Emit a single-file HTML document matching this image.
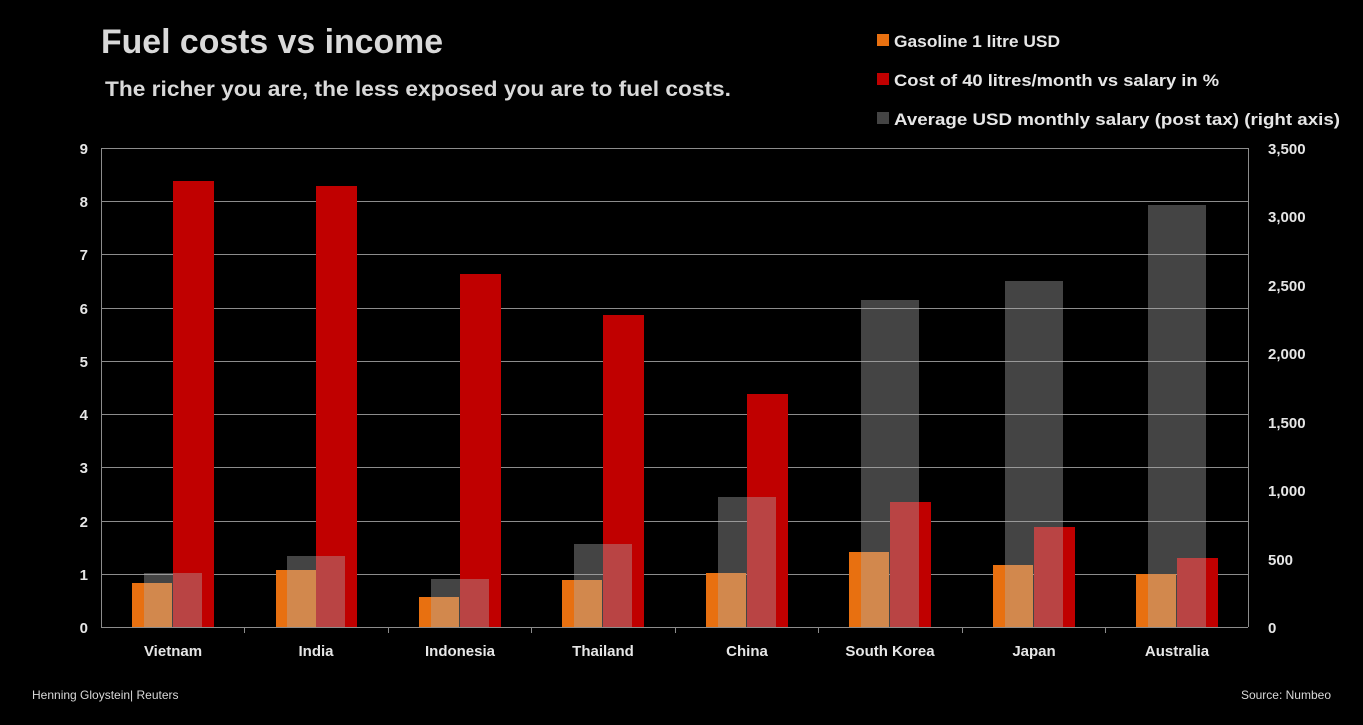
<!DOCTYPE html>
<html><head><style>
body{margin:0;background:#000;}
svg{display:block;font-family:"Liberation Sans",sans-serif;}
</style></head><body>
<svg width="1363" height="725" viewBox="0 0 1363 725" xmlns="http://www.w3.org/2000/svg">
<rect width="1363" height="725" fill="#000"/>
<text x="101" y="53" font-size="34" font-weight="bold" fill="#d9d9d9" textLength="342" lengthAdjust="spacingAndGlyphs">Fuel costs vs income</text>
<text x="105" y="96" font-size="21" font-weight="bold" fill="#d9d9d9" textLength="626" lengthAdjust="spacingAndGlyphs">The richer you are, the less exposed you are to fuel costs.</text>
<g font-size="17" font-weight="bold" fill="#e6e6e6">
<rect x="877" y="34" width="12" height="12" fill="#e87010"/><text x="894" y="47" textLength="166" lengthAdjust="spacingAndGlyphs">Gasoline 1 litre USD</text>
<rect x="877" y="73" width="12" height="12" fill="#c00000"/><text x="894" y="86" textLength="325" lengthAdjust="spacingAndGlyphs">Cost of 40 litres/month vs salary in %</text>
<rect x="877" y="112" width="12" height="12" fill="#444"/><text x="894" y="125" textLength="446" lengthAdjust="spacingAndGlyphs">Average USD monthly salary (post tax) (right axis)</text>
</g>
<g stroke="#8c8c8c" stroke-width="1">
<line x1="101" x2="1248" y1="148.5" y2="148.5"/><line x1="101" x2="1248" y1="201.5" y2="201.5"/>
<line x1="101" x2="1248" y1="254.5" y2="254.5"/><line x1="101" x2="1248" y1="308.5" y2="308.5"/>
<line x1="101" x2="1248" y1="361.5" y2="361.5"/><line x1="101" x2="1248" y1="414.5" y2="414.5"/>
<line x1="101" x2="1248" y1="467.5" y2="467.5"/><line x1="101" x2="1248" y1="521.5" y2="521.5"/>
<line x1="101" x2="1248" y1="574.5" y2="574.5"/><line x1="101" x2="1248" y1="627.5" y2="627.5"/>
<line x1="101.5" x2="101.5" y1="148" y2="627"/><line x1="1248.5" x2="1248.5" y1="148" y2="627"/>
<line x1="244.5" x2="244.5" y1="627" y2="633"/><line x1="388.5" x2="388.5" y1="627" y2="633"/>
<line x1="531.5" x2="531.5" y1="627" y2="633"/><line x1="675.5" x2="675.5" y1="627" y2="633"/>
<line x1="818.5" x2="818.5" y1="627" y2="633"/><line x1="962.5" x2="962.5" y1="627" y2="633"/>
<line x1="1105.5" x2="1105.5" y1="627" y2="633"/>
</g>
<g>
<rect x="132" y="583" width="40" height="44" fill="#e87010"/><rect x="173" y="181" width="41" height="446" fill="#c00000"/>
<rect x="276" y="570" width="40" height="57" fill="#e87010"/><rect x="316" y="186" width="41" height="441" fill="#c00000"/>
<rect x="419" y="597" width="40" height="30" fill="#e87010"/><rect x="460" y="274" width="41" height="353" fill="#c00000"/>
<rect x="562" y="580" width="40" height="47" fill="#e87010"/><rect x="603" y="315" width="41" height="312" fill="#c00000"/>
<rect x="706" y="573" width="40" height="54" fill="#e87010"/><rect x="747" y="394" width="41" height="233" fill="#c00000"/>
<rect x="849" y="552" width="40" height="75" fill="#e87010"/><rect x="890" y="502" width="41" height="125" fill="#c00000"/>
<rect x="993" y="565" width="40" height="62" fill="#e87010"/><rect x="1034" y="527" width="41" height="100" fill="#c00000"/>
<rect x="1136" y="574" width="40" height="53" fill="#e87010"/><rect x="1177" y="558" width="41" height="69" fill="#c00000"/>
</g>
<g fill="rgb(174,174,174)" fill-opacity="0.39">
<rect x="144" y="573" width="58" height="54"/>
<rect x="287" y="556" width="58" height="71"/>
<rect x="431" y="579" width="58" height="48"/>
<rect x="574" y="544" width="58" height="83"/>
<rect x="718" y="497" width="58" height="130"/>
<rect x="861" y="300" width="58" height="327"/>
<rect x="1005" y="281" width="58" height="346"/>
<rect x="1148" y="205" width="58" height="422"/>
</g>
<g font-size="15" font-weight="bold" fill="#e6e6e6" text-anchor="end">
<text x="88" y="154">9</text><text x="88" y="207">8</text><text x="88" y="260">7</text><text x="88" y="314">6</text>
<text x="88" y="367">5</text><text x="88" y="420">4</text><text x="88" y="473">3</text><text x="88" y="527">2</text>
<text x="88" y="580">1</text><text x="88" y="633">0</text>
</g>
<g font-size="15" font-weight="bold" fill="#e6e6e6" text-anchor="start">
<text x="1268" y="154">3,500</text><text x="1268" y="222">3,000</text><text x="1268" y="291">2,500</text>
<text x="1268" y="359">2,000</text><text x="1268" y="428">1,500</text><text x="1268" y="496">1,000</text>
<text x="1268" y="565">500</text><text x="1268" y="633">0</text>
</g>
<g font-size="15" font-weight="bold" fill="#e6e6e6" text-anchor="middle">
<text x="173" y="656">Vietnam</text><text x="316" y="656">India</text><text x="460" y="656">Indonesia</text>
<text x="603" y="656">Thailand</text><text x="747" y="656">China</text><text x="890" y="656">South Korea</text>
<text x="1034" y="656">Japan</text><text x="1177" y="656">Australia</text>
</g>
<text x="32" y="699" font-size="12" fill="#d9d9d9">Henning Gloystein| Reuters</text>
<text x="1331" y="699" font-size="12" fill="#d9d9d9" text-anchor="end">Source: Numbeo</text>
</svg>
</body></html>
